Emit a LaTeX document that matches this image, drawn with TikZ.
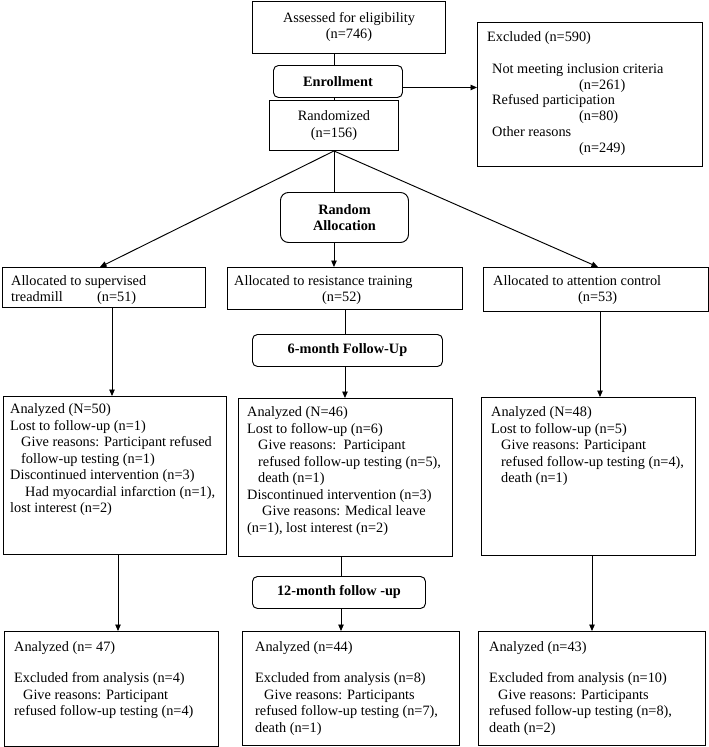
\documentclass[tikz,border=0pt]{standalone}
\usepackage{fontspec}
\setmainfont{Liberation Serif}
\usetikzlibrary{arrows.meta,calc}
\newcommand\myfs[1]{\fontsize{14.3pt}{#1pt}\selectfont}
\begin{document}
\begin{tikzpicture}[x=1pt,y=-1pt,
  box/.style={draw, line width=0.95pt, inner sep=0pt, anchor=north west, align=center, font=\myfs{16.5}},
  rbox/.style={box, rounded corners=5pt, font=\bfseries\myfs{16}},
  txt/.style={inner sep=0pt, anchor=north west, align=left, font=\myfs{16.5}},
  ln/.style={line width=0.95pt},
  arr/.style={ln, -{Triangle[length=6.5pt,width=5.5pt]}}]
\useasboundingbox (0,0) rectangle (709,747);
% boxes
\node[box, minimum width=193pt, minimum height=52.5pt] (assess) at (252,0.5) {Assessed for eligibility\\(n=746)};
\node[rbox, minimum width=129pt, minimum height=32pt] (enroll) at (273,65) {Enrollment};
\node[box, minimum width=129pt, minimum height=50pt] (rand) at (269,100) {Randomized\\(n=156)};
\node[box, minimum width=225pt, minimum height=144pt] (excl) at (477,22) {};
\node[rbox, rounded corners=8pt, minimum width=128pt, minimum height=50pt] (ralloc) at (280,192) {Random\\Allocation};
\node[box, minimum width=203pt, minimum height=40pt] (a1) at (2,267) {};
\node[box, minimum width=235pt, minimum height=42pt] (a2) at (227,267) {};
\node[box, minimum width=225pt, minimum height=44pt] (a3) at (483,267) {};
\node[rbox, minimum width=190pt, minimum height=32pt] (six) at (252,334) {6-month Follow-Up};
\node[box, minimum width=223pt, minimum height=158pt] (n1) at (3,396) {};
\node[box, minimum width=214pt, minimum height=158pt] (n2) at (238,398) {};
\node[box, minimum width=214pt, minimum height=158pt] (n3) at (481,397) {};
\node[rbox, minimum width=173pt, minimum height=32pt] (twelve) at (252,576) {12-month follow -up};
\node[box, minimum width=214pt, minimum height=115pt] (b1) at (4,631) {};
\node[box, minimum width=217pt, minimum height=114pt] (b2) at (242,631) {};
\node[box, minimum width=227pt, minimum height=114pt] (b3) at (478,631) {};
% texts
\node[txt, font=\myfs{15.8}] (exclt) at (487,31.5) {Excluded (n=590)\\[15.8pt]
\hspace*{5pt}Not meeting inclusion criteria\\
\hspace*{92pt}(n=261)\\
\hspace*{5pt}Refused participation\\
\hspace*{92pt}(n=80)\\
\hspace*{5pt}Other reasons\\
\hspace*{92pt}(n=249)};
\node[txt, font=\myfs{16}] (a1t) at (11,275.5) {Allocated to supervised\\\makebox[86pt][l]{treadmill}(n=51)};
\node[txt, font=\myfs{16}] (a2t) at (234,275.5) {Allocated to resistance training\\\hspace*{88pt}(n=52)};
\node[txt, font=\myfs{16}] (a3t) at (493,275.5) {Allocated to attention control\\\hspace*{85pt}(n=53)};
\node[txt] (n1t) at (10,403.5) {Analyzed (N=50)\\
Lost to follow-up (n=1)\\
\hspace*{11pt}Give reasons: Participant refused\\
\hspace*{11pt}follow-up testing (n=1)\\
Discontinued intervention (n=3)\\
\hspace*{15pt}Had myocardial infarction (n=1),\\
lost interest (n=2)};
\node[txt] (n2t) at (247,406.5) {Analyzed (N=46)\\
Lost to follow-up (n=6)\\
\hspace*{11pt}Give reasons:\ \ Participant\\
\hspace*{11pt}refused follow-up testing (n=5),\\
\hspace*{11pt}death (n=1)\\
Discontinued intervention (n=3)\\
\hspace*{15pt}Give reasons: Medical leave\\
(n=1), lost interest (n=2)};
\node[txt] (n3t) at (491,406.5) {Analyzed (N=48)\\
Lost to follow-up (n=5)\\
\hspace*{10pt}Give reasons: Participant\\
\hspace*{10pt}refused follow-up testing (n=4),\\
\hspace*{10pt}death (n=1)};
\node[txt] (b1t) at (14,641.5) {Analyzed (n= 47)\\[14.5pt]
Excluded from analysis (n=4)\\
\hspace*{9pt}Give reasons: Participant\\
refused follow-up testing (n=4)};
\node[txt] (b2t) at (255,641.5) {Analyzed (n=44)\\[14.5pt]
Excluded from analysis (n=8)\\
\hspace*{9pt}Give reasons: Participants\\
refused follow-up testing (n=7),\\
death (n=1)};
\node[txt] (b3t) at (489,641.5) {Analyzed (n=43)\\[14.5pt]
Excluded from analysis (n=10)\\
\hspace*{9pt}Give reasons: Participants\\
refused follow-up testing (n=8),\\
death (n=2)};
% connectors
\draw[ln] (assess.south -| rand.north) -- (enroll.north -| rand.north);
\draw[ln] (enroll.south -| rand.north) -- (rand.north);
\draw[arr] ([yshift=-6pt]enroll.east) -- ([yshift=-6pt]enroll.east -| excl.west);
\draw[arr] (rand.south) -- ([xshift=98pt]a1.north west);
\draw[ln] (rand.south) -- (rand.south |- ralloc.north);
\draw[arr] (rand.south |- ralloc.south) -- (rand.south |- a2.north);
\draw[arr] (rand.south) -- ([xshift=115pt]a3.north west);
\draw[arr] ([xshift=110pt]a1.south west) -- ([xshift=110pt]a1.south west |- n1.north);
\draw[ln] (a2.south) -- (a2.south |- six.north);
\draw[arr] (a2.south |- six.south) -- (a2.south |- n2.north);
\draw[arr] ([xshift=117pt]a3.south west) -- ([xshift=117pt]a3.south west |- n3.north);
\draw[arr] ([xshift=115pt]n1.south west) -- ([xshift=115pt]n1.south west |- b1.north);
\draw[ln] ([xshift=103pt]n2.south west) -- ([xshift=103pt]n2.south west |- twelve.north);
\draw[arr] ([xshift=103pt]n2.south west |- twelve.south) -- ([xshift=103pt]n2.south west |- b2.north);
\draw[arr] ([xshift=111pt]n3.south west) -- ([xshift=111pt]n3.south west |- b3.north);
\end{tikzpicture}
\end{document}
